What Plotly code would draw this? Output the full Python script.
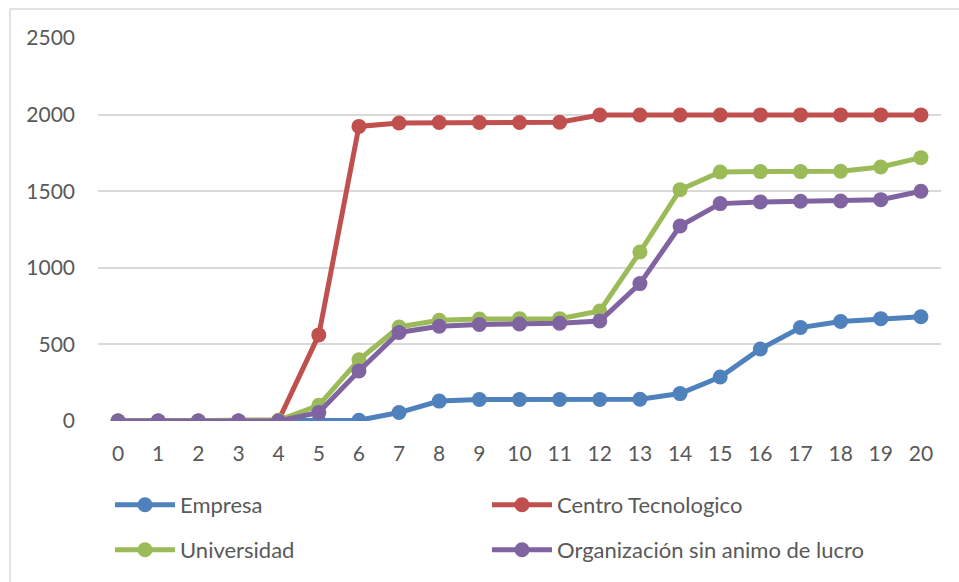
import plotly.graph_objects as go

# Periods on the horizontal axis
periodos = list(range(21))

# Cumulative counts per type of organisation
empresa = [0, 0, 0, 0, 0, 0, 5, 55, 130, 140, 140, 140, 140, 142, 179, 287, 470, 610, 649, 668, 680]
centro_tecnologico = [0, 0, 0, 0, 5, 562, 1923, 1945, 1948, 1948, 1948, 1950, 1997, 1997, 1997, 1997, 1998, 1998, 1998, 1998, 1998]
universidad = [0, 0, 0, 0, 5, 102, 400, 614, 657, 665, 668, 668, 718, 1103, 1510, 1625, 1628, 1628, 1630, 1658, 1719]
organizacion = [0, 0, 0, 0, 0, 55, 327, 578, 618, 630, 633, 638, 653, 897, 1273, 1419, 1430, 1434, 1436, 1445, 1500]

nombres = ["Empresa", "Centro Tecnologico", "Universidad", "Organización sin animo de lucro"]
series = [empresa, centro_tecnologico, universidad, organizacion]
colores = ["#4F81BD", "#C0504D", "#9BBB59", "#8064A2"]
leyendas = ["legend", "legend", "legend2", "legend2"]

y_ticks = [0, 500, 1000, 1500, 2000, 2500]

FONT = "Lato"
TEXT_COLOR = "#595959"
GRID_COLOR = "#d9d9d9"

fig = go.Figure()
for nombre, valores, color, leg in zip(nombres, series, colores, leyendas):
    fig.add_trace(go.Scatter(
        x=periodos, y=valores, name=nombre, mode="lines+markers",
        line=dict(color=color, width=5),
        marker=dict(color=color, size=15),
        legend=leg,
    ))

legend_common = dict(
    orientation="h", xref="container", yref="container",
    x=110 / 959, xanchor="left", yanchor="middle",
    entrywidth=302, entrywidthmode="pixels",
    font=dict(family=FONT, size=22, color=TEXT_COLOR),
    itemwidth=60, bgcolor="rgba(0,0,0,0)",
)

fig.update_layout(
    width=959, height=582,
    margin=dict(l=98, r=18, t=38, b=161),
    paper_bgcolor="white", plot_bgcolor="white",
    font=dict(family=FONT, size=21, color=TEXT_COLOR),
    showlegend=True,
    legend=dict(legend_common, y=1 - 505 / 582),
    legend2=dict(legend_common, y=1 - 550 / 582),
    xaxis=dict(
        range=[-0.5, 20.5], tickmode="array", tickvals=periodos,
        ticktext=[str(p) for p in periodos],
        showgrid=False, zeroline=False, showline=False,
        ticks="", ticklabelstandoff=18,
        tickfont=dict(family=FONT, size=21, color=TEXT_COLOR),
    ),
    yaxis=dict(
        range=[0, 2500], tickmode="array", tickvals=y_ticks,
        showgrid=True, gridcolor=GRID_COLOR, gridwidth=1.5,
        zeroline=False, showline=False, ticks="", ticklabelstandoff=22,
        tickfont=dict(family=FONT, size=21, color=TEXT_COLOR),
    ),
    shapes=[
        # outer chart frame (top and left edges visible)
        dict(type="line", xref="paper", yref="paper",
             x0=-88 / 843, x1=1.05, y0=412 / 383, y1=412 / 383,
             line=dict(color=GRID_COLOR, width=1.5)),
        dict(type="line", xref="paper", yref="paper",
             x0=-88 / 843, x1=-88 / 843, y0=412 / 383, y1=-0.5,
             line=dict(color=GRID_COLOR, width=1.5)),
    ],
)

fig.write_html("out.html")
